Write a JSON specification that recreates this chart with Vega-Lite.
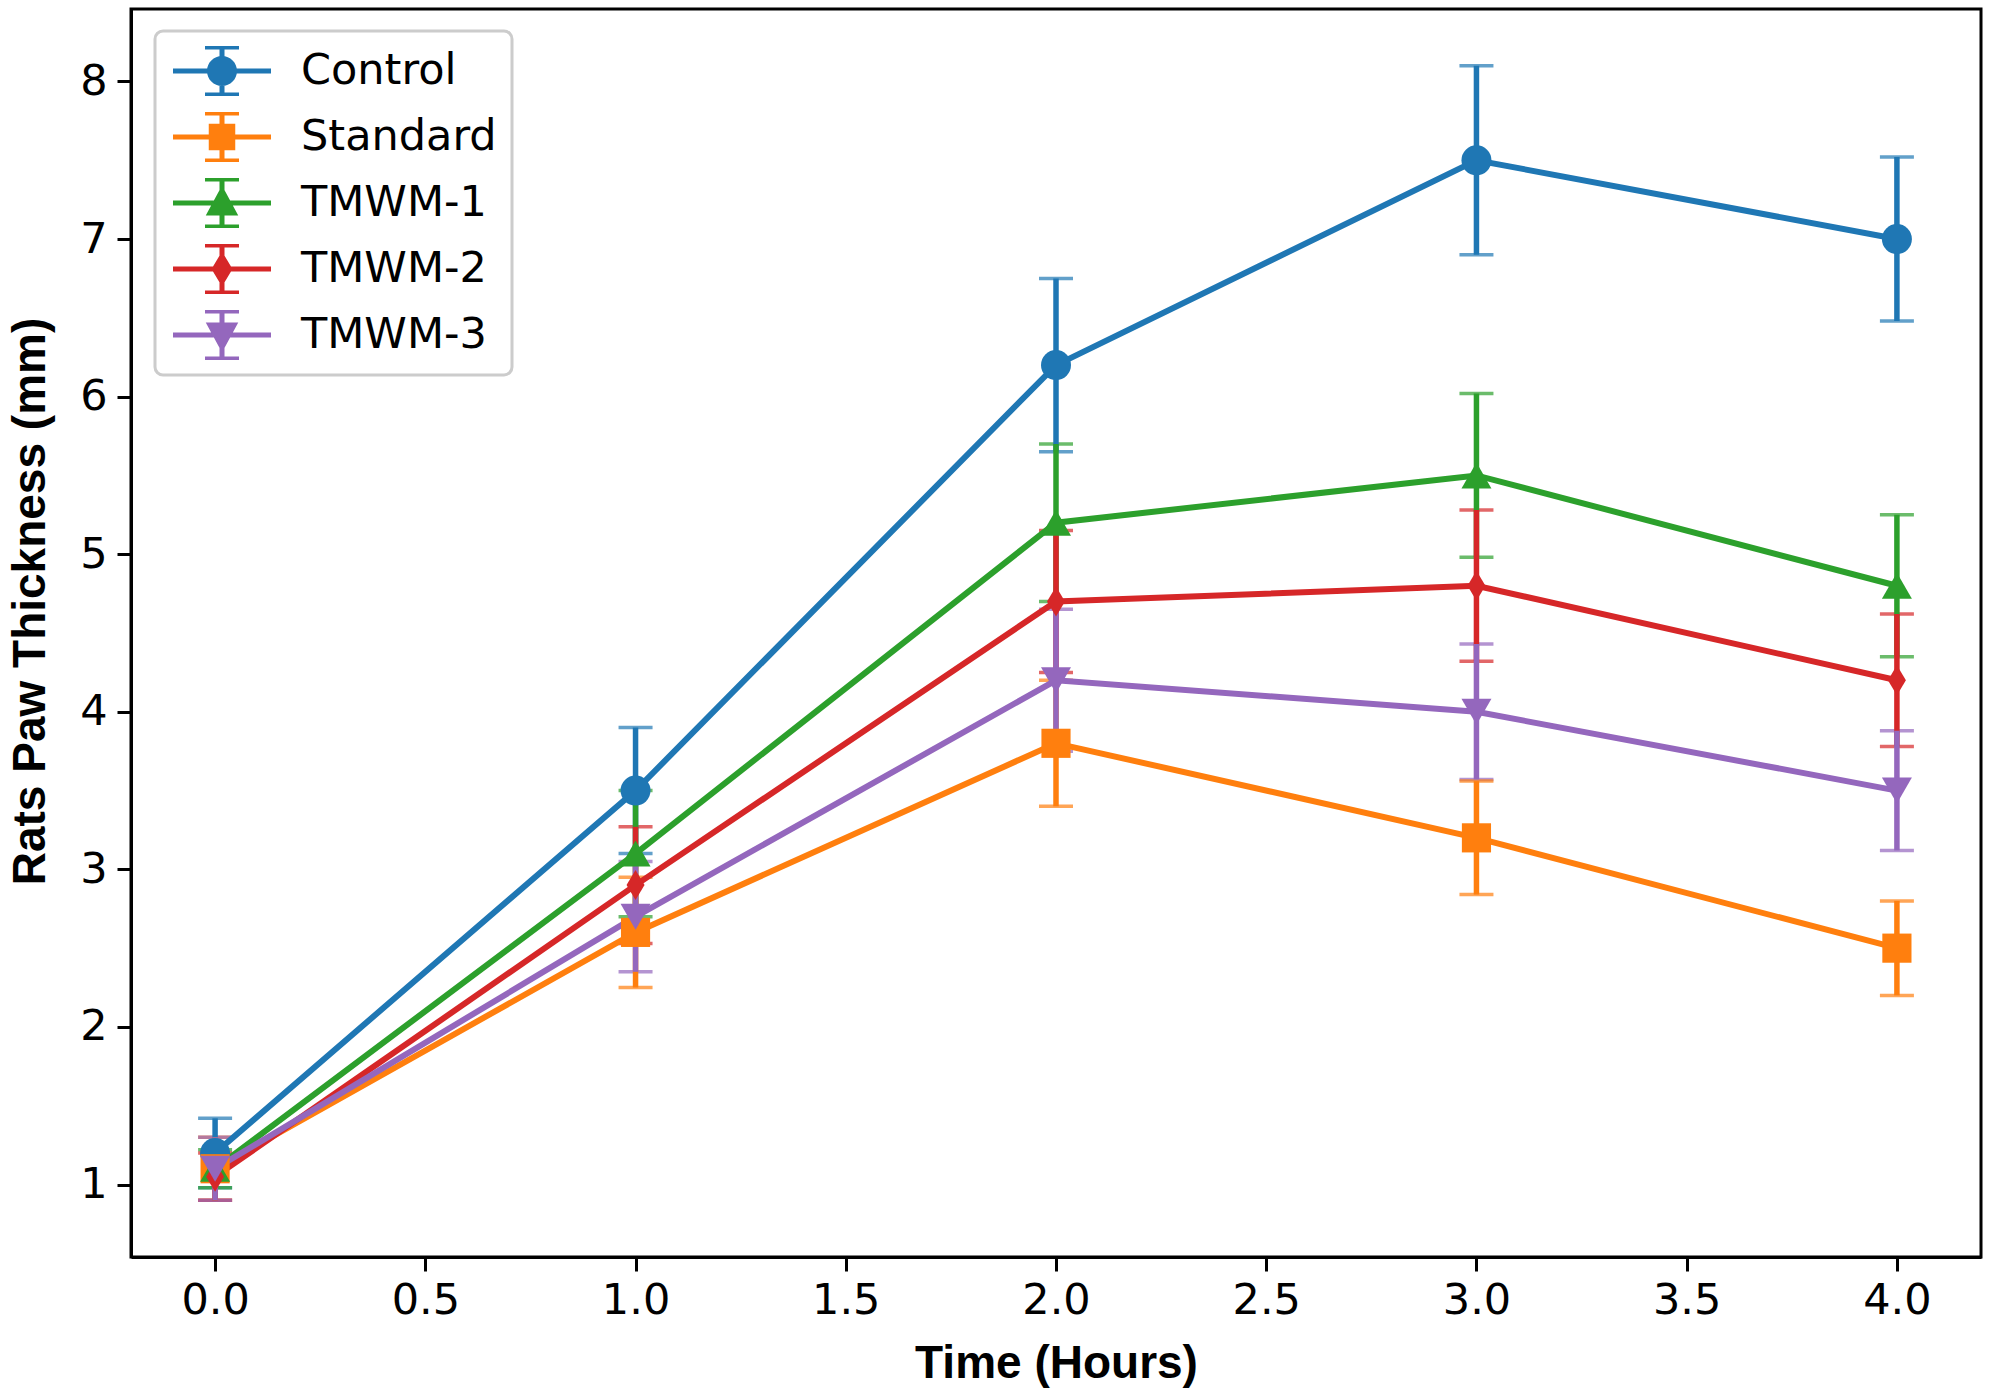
{
  "$schema": "https://vega.github.io/schema/vega-lite/v6.json",
  "width": 1850,
  "height": 1248,
  "autosize": {"type": "none"},
  "padding": {"left": 131, "top": 9, "right": 11, "bottom": 135},
  "background": "white",
  "config": {
    "view": {"stroke": "black", "strokeWidth": 3},
    "axis": {
      "grid": false,
      "domainColor": "black",
      "domainWidth": 3,
      "tickColor": "black",
      "tickWidth": 3,
      "tickSize": 14,
      "labelFont": "DejaVu Sans",
      "labelFontSize": 43,
      "labelColor": "black",
      "titleFont": "Liberation Sans",
      "titleFontWeight": "bold",
      "titleFontSize": 46,
      "titleColor": "black"
    }
  },
  "data": {
    "values": [
      {"Group": "Control", "Time": 0, "Thickness": 1.2, "SD": 0.22},
      {"Group": "Control", "Time": 1, "Thickness": 3.5, "SD": 0.4},
      {"Group": "Control", "Time": 2, "Thickness": 6.2, "SD": 0.55},
      {"Group": "Control", "Time": 3, "Thickness": 7.5, "SD": 0.6},
      {"Group": "Control", "Time": 4, "Thickness": 7.0, "SD": 0.52},
      {"Group": "Standard", "Time": 0, "Thickness": 1.1, "SD": 0.2},
      {"Group": "Standard", "Time": 1, "Thickness": 2.6, "SD": 0.35},
      {"Group": "Standard", "Time": 2, "Thickness": 3.8, "SD": 0.4},
      {"Group": "Standard", "Time": 3, "Thickness": 3.2, "SD": 0.36},
      {"Group": "Standard", "Time": 4, "Thickness": 2.5, "SD": 0.3},
      {"Group": "TMWM-1", "Time": 0, "Thickness": 1.1, "SD": 0.12},
      {"Group": "TMWM-1", "Time": 1, "Thickness": 3.1, "SD": 0.4},
      {"Group": "TMWM-1", "Time": 2, "Thickness": 5.2, "SD": 0.5},
      {"Group": "TMWM-1", "Time": 3, "Thickness": 5.5, "SD": 0.52},
      {"Group": "TMWM-1", "Time": 4, "Thickness": 4.8, "SD": 0.45},
      {"Group": "TMWM-2", "Time": 0, "Thickness": 1.05, "SD": 0.15},
      {"Group": "TMWM-2", "Time": 1, "Thickness": 2.9, "SD": 0.37},
      {"Group": "TMWM-2", "Time": 2, "Thickness": 4.7, "SD": 0.45},
      {"Group": "TMWM-2", "Time": 3, "Thickness": 4.8, "SD": 0.48},
      {"Group": "TMWM-2", "Time": 4, "Thickness": 4.2, "SD": 0.42},
      {"Group": "TMWM-3", "Time": 0, "Thickness": 1.1, "SD": 0.2},
      {"Group": "TMWM-3", "Time": 1, "Thickness": 2.7, "SD": 0.35},
      {"Group": "TMWM-3", "Time": 2, "Thickness": 4.2, "SD": 0.45},
      {"Group": "TMWM-3", "Time": 3, "Thickness": 4.0, "SD": 0.43},
      {"Group": "TMWM-3", "Time": 4, "Thickness": 3.5, "SD": 0.38}
    ]
  },
  "encoding": {
    "x": {
      "field": "Time",
      "type": "quantitative",
      "scale": {"domain": [-0.2, 4.2], "nice": false, "zero": false},
      "axis": {
        "title": "Time (Hours)",
        "values": [0, 0.5, 1, 1.5, 2, 2.5, 3, 3.5, 4],
        "format": ".1f",
        "labelPadding": 8,
        "titlePadding": 19
      }
    },
    "y": {
      "field": "Thickness",
      "type": "quantitative",
      "scale": {"domain": [0.54, 8.46], "nice": false, "zero": false},
      "axis": {
        "title": "Rats Paw Thickness (mm)",
        "values": [1, 2, 3, 4, 5, 6, 7, 8],
        "labelPadding": 10,
        "titlePadding": 25,
        "titleY": 592
      }
    }
  },
  "layer": [
    {
      "mark": {"type": "errorbar", "ticks": {"size": 34, "thickness": 3.5}, "rule": {"strokeWidth": 5.5}},
      "encoding": {
        "yError": {"field": "SD"},
        "color": {
          "field": "Group",
          "type": "nominal",
          "scale": {"domain": ["Control", "Standard", "TMWM-1", "TMWM-2", "TMWM-3"], "range": ["#1f77b4", "#ff7f0e", "#2ca02c", "#d62728", "#9467bd"]}
        }
      }
    },
    {
      "mark": {"type": "line", "strokeWidth": 6},
      "encoding": {
        "color": {"field": "Group", "type": "nominal"},
        "detail": {"field": "Group"}
      }
    },
    {
      "transform": [{"filter": "datum.Group === 'Control'"}],
      "mark": {"type": "point", "filled": true, "opacity": 1, "size": 900, "shape": "circle"},
      "encoding": {"color": {"field": "Group", "type": "nominal"}}
    },
    {
      "transform": [{"filter": "datum.Group === 'Standard'"}],
      "mark": {"type": "point", "filled": true, "opacity": 1, "size": 850, "shape": "square"},
      "encoding": {"color": {"field": "Group", "type": "nominal"}}
    },
    {
      "transform": [{"filter": "datum.Group === 'TMWM-1'"}],
      "mark": {"type": "point", "filled": true, "opacity": 1, "size": 900, "shape": "triangle-up"},
      "encoding": {"color": {"field": "Group", "type": "nominal"}}
    },
    {
      "transform": [{"filter": "datum.Group === 'TMWM-2'"}],
      "mark": {"type": "point", "filled": true, "opacity": 1, "size": 900, "shape": "M0,-1L0.6,0L0,1L-0.6,0Z"},
      "encoding": {"color": {"field": "Group", "type": "nominal"}}
    },
    {
      "transform": [{"filter": "datum.Group === 'TMWM-3'"}],
      "mark": {"type": "point", "filled": true, "opacity": 1, "size": 900, "shape": "triangle-down"},
      "encoding": {"color": {"field": "Group", "type": "nominal"}}
    },
    {
      "mark": {"type": "point", "filled": true, "opacity": 0},
      "encoding": {
        "color": {
          "field": "Group",
          "type": "nominal",
          "legend": {
            "title": null,
            "orient": "none",
            "legendX": 24,
            "legendY": 22,
            "direction": "vertical",
            "fillColor": "white",
            "strokeColor": "#cccccc",
            "cornerRadius": 8,
            "padding": 15,
            "rowPadding": 16,
            "symbolSize": 2500,
            "symbolStrokeWidth": 0,
            "symbolOpacity": 1,
            "labelOffset": 81,
            "labelFont": "DejaVu Sans",
            "labelFontSize": 43,
            "labelColor": "black",
            "labelLimit": 400,
            "encode": {
              "symbols": {"update": {"opacity": {"value": 1}, "fillOpacity": {"value": 1}}},
              "legend": {"update": {"strokeWidth": {"value": 3}}}
            }
          }
        },
        "shape": {
          "field": "Group",
          "type": "nominal",
          "scale": {
            "domain": ["Control", "Standard", "TMWM-1", "TMWM-2", "TMWM-3"],
            "range": [
              "M-0.88,-0.1H3.04V0.1H-0.88Z M0.98,-0.95H1.18V0.95H0.98Z M0.4,-1H1.76V-0.86H0.4Z M0.4,0.86H1.76V1H0.4Z M0.48,0A0.6,0.6,0,1,1,1.68,0A0.6,0.6,0,1,1,0.48,0Z",
              "M-0.88,-0.1H3.04V0.1H-0.88Z M0.98,-0.95H1.18V0.95H0.98Z M0.4,-1H1.76V-0.86H0.4Z M0.4,0.86H1.76V1H0.4Z M0.55,-0.53H1.61V0.53H0.55Z",
              "M-0.88,-0.1H3.04V0.1H-0.88Z M0.98,-0.95H1.18V0.95H0.98Z M0.4,-1H1.76V-0.86H0.4Z M0.4,0.86H1.76V1H0.4Z M1.08,-0.7L1.73,0.5L0.43,0.5Z",
              "M-0.88,-0.1H3.04V0.1H-0.88Z M0.98,-0.95H1.18V0.95H0.98Z M0.4,-1H1.76V-0.86H0.4Z M0.4,0.86H1.76V1H0.4Z M1.08,-0.7L1.5,0L1.08,0.7L0.66,0Z",
              "M-0.88,-0.1H3.04V0.1H-0.88Z M0.98,-0.95H1.18V0.95H0.98Z M0.4,-1H1.76V-0.86H0.4Z M0.4,0.86H1.76V1H0.4Z M0.43,-0.5L1.73,-0.5L1.08,0.7Z"
            ]
          },
          "legend": {
            "title": null,
            "orient": "none",
            "legendX": 24,
            "legendY": 22,
            "direction": "vertical",
            "fillColor": "white",
            "strokeColor": "#cccccc",
            "cornerRadius": 8,
            "padding": 15,
            "rowPadding": 16,
            "symbolSize": 2500,
            "symbolStrokeWidth": 0,
            "symbolOpacity": 1,
            "labelOffset": 81,
            "labelFont": "DejaVu Sans",
            "labelFontSize": 43,
            "labelColor": "black",
            "labelLimit": 400,
            "encode": {
              "symbols": {"update": {"opacity": {"value": 1}, "fillOpacity": {"value": 1}}},
              "legend": {"update": {"strokeWidth": {"value": 3}}}
            }
          }
        }
      }
    }
  ]
}
